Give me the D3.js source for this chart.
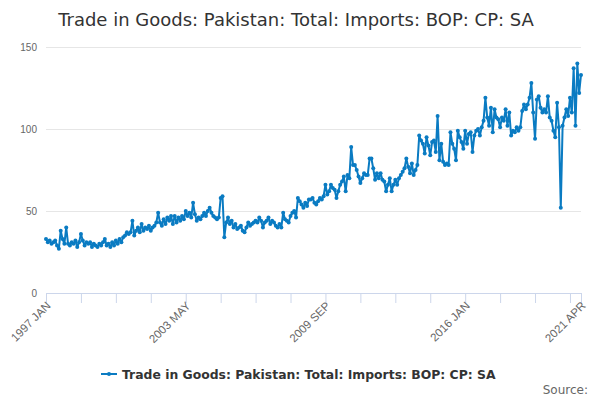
<!DOCTYPE html>
<html>
<head>
<meta charset="utf-8">
<script src="https://cdn.jsdelivr.net/npm/d3@7"></script>
<style>
  body { margin: 0; background: #fff; }
  svg { font-family: "DejaVu Sans", sans-serif; }
</style>
</head>
<body>
<div id="chart"></div>
<script>
// monthly values, 1997 JAN .. 2021 APR
const startYear = 1997;
const monthNames = ["JAN", "FEB", "MAR", "APR", "MAY", "JUN", "JUL", "AUG", "SEP", "OCT", "NOV", "DEC"];
const values1997_2000 = [
  33, 31, 32, 30, 31, 32, 29, 27, 38, 33, 30, 40,
  30, 29, 31, 30, 32, 28, 31, 36, 32, 29, 31, 30,
  31, 28, 30, 29, 28, 30, 29, 31, 33, 29, 30, 28,
  31, 29, 32, 30, 33, 31, 34, 35, 37, 36, 37, 44
];
const values2001_2004 = [
  35, 38, 40, 37, 42, 38, 40, 39, 41, 38, 40, 41,
  43, 49, 43, 41, 45, 42, 46, 44, 47, 42, 47, 43,
  46, 44, 47, 45, 50, 47, 49, 46, 55, 48, 44, 46,
  45, 47, 49, 47, 50, 52, 49, 47, 46, 45, 46, 58
];
const values2005_2008 = [
  59, 34, 43, 46, 42, 44, 40, 42, 39, 40, 41, 38,
  37, 40, 43, 41, 42, 43, 44, 43, 46, 44, 40, 43,
  44, 46, 42, 44, 43, 41, 40, 42, 40, 49, 45, 44,
  43, 47, 49, 50, 46, 58, 56, 54, 52, 55, 53, 57
];
const values2009_2012 = [
  57, 58, 55, 54, 56, 58, 57, 59, 66, 60, 62, 66,
  64, 63, 58, 62, 66, 68, 71, 62, 72, 70, 89, 78,
  78, 75, 71, 67, 70, 73, 72, 72, 82, 82, 76, 69,
  73, 70, 73, 69, 68, 62, 66, 70, 62, 66, 69, 66
];
const values2013_2016 = [
  70, 72, 74, 76, 82, 77, 73, 79, 72, 75, 78, 96,
  93, 91, 85, 95, 90, 84, 92, 93, 86, 108, 81, 91,
  80, 78, 79, 78, 98, 91, 88, 81, 99, 95, 92, 88,
  99, 91, 97, 98, 86, 96, 99, 100, 96, 101, 105, 119
];
const values2017_2021 = [
  107, 102, 113, 98, 112, 107, 106, 101, 107, 105, 112, 102,
  110, 96, 99, 98, 101, 99, 101, 111, 115, 112, 115, 119,
  128, 110, 94, 118, 120, 113, 110, 112, 110, 120, 107, 105,
  99, 95, 116, 101, 52, 102, 107, 112, 108, 119, 110, 137,
  102, 140, 122, 133
];
const yTicks = [0, 50, 100, 150];
const tickStep = 19;
const labelStep = 76;

const values = [].concat(values1997_2000, values2001_2004, values2005_2008,
  values2009_2012, values2013_2016, values2017_2021);
const data = values.map((v, i) => ({ i: i, v: v }));
const lastIdx = values.length - 1;

const monthLabel = i => `${startYear + Math.floor(i / 12)} ${monthNames[i % 12]}`;

const W = 600, H = 400;
const margin = { top: 47, right: 19, bottom: 107, left: 46 };
const width = W - margin.left - margin.right;
const height = H - margin.top - margin.bottom;
const color = "#0a7bc2";
const seriesName = "Trade in Goods: Pakistan: Total: Imports: BOP: CP: SA";

const svg = d3.select("#chart")
  .append("svg")
  .attr("width", W)
  .attr("height", H);

svg.append("text")
  .attr("x", 296)
  .attr("y", 26)
  .attr("text-anchor", "middle")
  .attr("fill", "#333")
  .style("font-size", "18px")
  .text(seriesName);

const g = svg.append("g")
  .attr("transform", `translate(${margin.left},${margin.top})`);

const x = d3.scaleLinear().domain([0, lastIdx]).range([0, width]);
const y = d3.scaleLinear().domain([0, 150]).range([height, 0]);

// grid + y labels
g.append("g")
  .call(d3.axisLeft(y).tickValues(yTicks).tickSize(-width).tickPadding(9))
  .call(s => s.select(".domain").remove())
  .call(s => s.selectAll(".tick line").attr("stroke", "#e6e6e6"))
  .call(s => s.selectAll(".tick text").attr("fill", "#666").style("font-size", "10px"));

// x axis
const tickVals = d3.range(0, lastIdx + 1, tickStep).concat([lastIdx]);
const xAxis = g.append("g")
  .attr("transform", `translate(0,${height})`)
  .call(d3.axisBottom(x).tickValues(tickVals).tickSize(10)
    .tickFormat(i => (i % labelStep === 0 || i === lastIdx) ? monthLabel(i) : ""));
xAxis.select(".domain").attr("stroke", "#ccd6eb");
xAxis.selectAll(".tick line").attr("stroke", "#ccd6eb");
xAxis.selectAll(".tick text")
  .attr("fill", "#666")
  .style("font-size", "11.5px")
  .attr("text-anchor", "end")
  .attr("x", -6)
  .attr("y", 9)
  .attr("dy", "0.35em")
  .attr("transform", "rotate(-45)");

const line = d3.line()
  .x(d => x(d.i))
  .y(d => y(d.v));

g.append("path")
  .datum(data)
  .attr("fill", "none")
  .attr("stroke", color)
  .attr("stroke-width", 2)
  .attr("stroke-linejoin", "round")
  .attr("d", line);

g.selectAll("circle")
  .data(data)
  .enter()
  .append("circle")
  .attr("cx", d => x(d.i))
  .attr("cy", d => y(d.v))
  .attr("r", 2)
  .attr("fill", color);

// legend
const legend = svg.append("g").attr("transform", "translate(0,374)");
legend.append("text")
  .attr("x", 122)
  .attr("y", 4.5)
  .attr("fill", "#333")
  .style("font-size", "12.4px")
  .style("font-weight", "bold")
  .text(seriesName);
legend.append("line")
  .attr("x1", 101).attr("x2", 117)
  .attr("stroke", color).attr("stroke-width", 2);
legend.append("circle")
  .attr("cx", 109).attr("r", 2).attr("fill", color);

svg.append("text")
  .attr("x", 588)
  .attr("y", 394)
  .attr("text-anchor", "end")
  .attr("fill", "#666")
  .style("font-size", "12px")
  .text("Source:");
</script>
</body>
</html>
